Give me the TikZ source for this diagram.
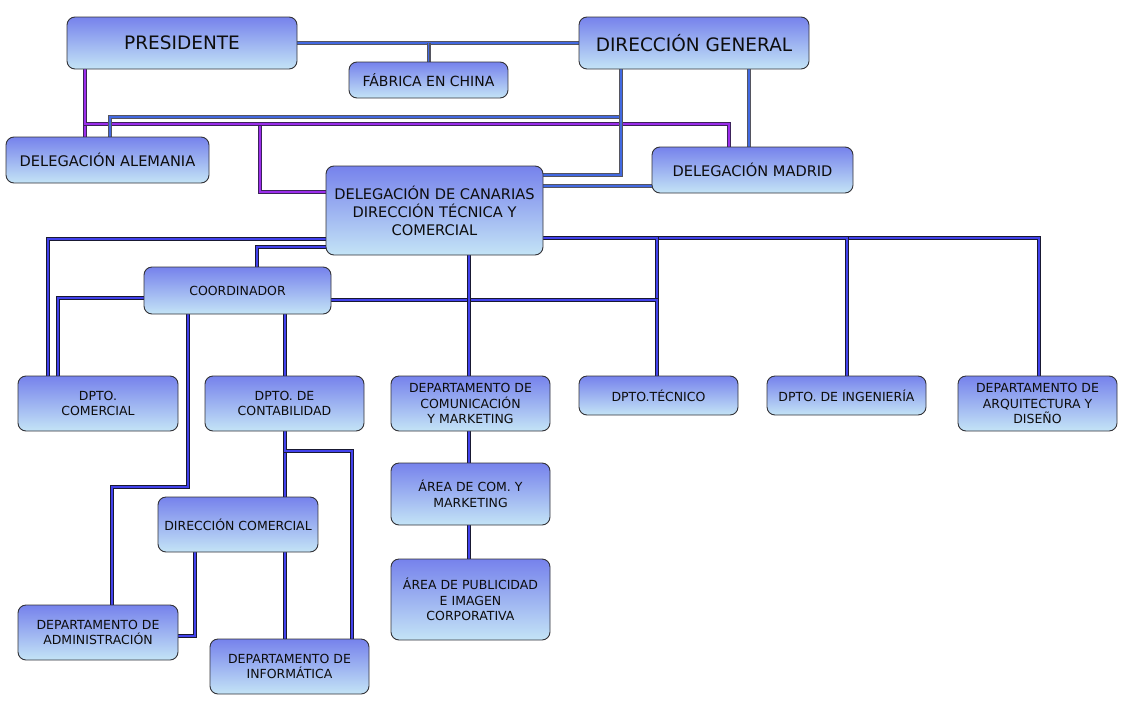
\documentclass[tikz,border=0pt]{standalone}
\usepackage{fontspec}
\setmainfont{DejaVu Sans}
\usetikzlibrary{calc}
\pgfdeclarelayer{bg}
\pgfsetlayers{bg,main}
\definecolor{boxtop}{RGB}{118,130,236}
\definecolor{boxbot}{RGB}{196,228,246}
\definecolor{boxline}{RGB}{50,50,55}
\definecolor{lkin}{RGB}{66,66,236}
\definecolor{lkout}{RGB}{25,25,50}
\definecolor{lbin}{RGB}{66,105,225}
\definecolor{lbout}{RGB}{85,85,95}
\definecolor{lpin}{RGB}{155,45,235}
\definecolor{lpout}{RGB}{60,35,90}
\tikzset{
  box/.style={draw=boxline, line width=0.9pt, rounded corners=8pt,
    top color=boxtop, bottom color=boxbot, align=center,
    inner sep=2pt, outer sep=0pt, text=black!95},
  big/.style={box, font=\fontsize{18.5}{22}\selectfont},
  mid/.style={box, font=\fontsize{14.6}{18}\selectfont},
  sml/.style={box, font=\fontsize{12.5}{15.5}\selectfont},
  lk/.style={line width=1.8pt, draw=lkin, preaction={draw=lkout, line width=4pt}},
  lb/.style={line width=1.8pt, draw=lbin, preaction={draw=lbout, line width=4pt}},
  lp/.style={line width=1.8pt, draw=lpin, preaction={draw=lpout, line width=4pt}},
}
\begin{document}
\begin{tikzpicture}[x=1pt,y=-1pt]
\useasboundingbox (0,0) rectangle (1132,707);
% nodes
\node[big, minimum width=230pt, minimum height=52pt] (pres) at (182,43) {PRESIDENTE};
\node[big, minimum width=230pt, minimum height=52pt] (dg) at (694,43) {DIRECCIÓN GENERAL};
\node[mid, minimum width=159pt, minimum height=36pt, font=\fontsize{14}{17}\selectfont] (fab) at (428.5,80) {FÁBRICA EN CHINA};
\node[mid, minimum width=203pt, minimum height=46pt] (alem) at (107.5,160) {DELEGACIÓN ALEMANIA};
\node[mid, minimum width=201pt, minimum height=46pt] (mad) at (752.5,170) {DELEGACIÓN MADRID};
\node[mid, minimum width=217pt, minimum height=89pt] (can) at (434.5,210.5) {DELEGACIÓN DE CANARIAS\\DIRECCIÓN TÉCNICA Y\\COMERCIAL};
\node[sml, minimum width=187pt, minimum height=47pt] (coord) at (237.5,290.5) {COORDINADOR};
\node[sml, minimum width=160pt, minimum height=55pt] (com) at (98,403.5) {DPTO.\\COMERCIAL};
\node[sml, minimum width=159pt, minimum height=55pt] (cont) at (284.5,403.5) {DPTO. DE\\CONTABILIDAD};
\node[sml, minimum width=159pt, minimum height=55pt] (comu) at (470.5,403.5) {DEPARTAMENTO DE\\COMUNICACIÓN\\Y MARKETING};
\node[sml, minimum width=159pt, minimum height=39pt] (tec) at (658.5,395.5) {DPTO.TÉCNICO};
\node[sml, minimum width=159pt, minimum height=39pt] (ing) at (846.5,395.5) {DPTO. DE INGENIERÍA};
\node[sml, minimum width=159pt, minimum height=55pt] (arq) at (1037.5,403.5) {DEPARTAMENTO DE\\ARQUITECTURA Y\\DISEÑO};
\node[sml, minimum width=159pt, minimum height=62pt] (acom) at (470.5,494) {ÁREA DE COM. Y\\MARKETING};
\node[sml, minimum width=159pt, minimum height=81pt] (apub) at (470.5,599.5) {ÁREA DE PUBLICIDAD\\E IMAGEN\\CORPORATIVA};
\node[sml, minimum width=160pt, minimum height=55pt] (dcom) at (238,524.5) {DIRECCIÓN COMERCIAL};
\node[sml, minimum width=160pt, minimum height=55pt] (adm) at (98,632.5) {DEPARTAMENTO DE\\ADMINISTRACIÓN};
\node[sml, minimum width=159pt, minimum height=55pt] (inf) at (289.5,666.5) {DEPARTAMENTO DE\\INFORMÁTICA};
% connectors
\begin{pgfonlayer}{bg}
% top row
\draw[lb] (pres.east) -- (dg.west);
\draw[lb] (fab.north) -- (fab.north |- pres.east);
% purple from presidente
\draw[lp] (pres.south -| 85,0) -- (alem.north -| 85,0);
\draw[lp] (pres.south -| 85,0) -- (85,124) -- (260,124) -- (260,192) -- (can.west |- 0,192);
\draw[lp] (pres.south -| 85,0) -- (85,124) -- (729,124) -- (mad.north -| 729,0);
% blue from direccion general
\draw[lb] (dg.south -| 621,0) -- (621,117) -- (110,117) -- (alem.north -| 110,0);
\draw[lb] (dg.south -| 621,0) -- (621,175) -- (can.east |- 0,175);
\draw[lb] (dg.south -| 749,0) -- (mad.north -| 749,0);
\draw[lb] (can.east |- 0,186) -- (mad.west |- 0,186);
% canarias downward
\draw[lk] (can.west |- 0,239) -- (48,239) -- (com.north -| 48,0);
\draw[lk] (can.west |- 0,247) -- (257,247) -- (coord.north -| 257,0);
\draw[lk] (can.east |- 0,238) -- (1039,238) -- (arq.north -| 1039,0);
\draw[lk] (can.east |- 0,238) -- (847,238) -- (ing.north -| 847,0);
\draw[lk] (can.east |- 0,238) -- (657,238) -- (tec.north -| 657,0);
\draw[lk] (coord.east |- 0,300) -- (657,300) -- (tec.north -| 657,0);
\draw[lk] (can.south -| 469,0) -- (comu.north -| 469,0);
% coordinador
\draw[lk] (coord.west |- 0,298) -- (58,298) -- (com.north -| 58,0);
\draw[lk] (coord.south -| 188,0) -- (188,487) -- (112,487) -- (adm.north -| 112,0);
\draw[lk] (coord.south -| 285,0) -- (cont.north -| 285,0);
% contabilidad
\draw[lk] (cont.south -| 285,0) -- (dcom.north -| 285,0);
\draw[lk] (cont.south -| 285,0) -- (285,451) -- (352,451) -- (inf.north -| 352,0);
% direccion comercial
\draw[lk] (dcom.south -| 285,0) -- (inf.north -| 285,0);
\draw[lk] (dcom.south -| 195,0) -- (195,636) -- (adm.east |- 0,636);
% marketing column
\draw[lk] (comu.south -| 469,0) -- (acom.north -| 469,0);
\draw[lk] (acom.south -| 469,0) -- (apub.north -| 469,0);
\end{pgfonlayer}
\end{tikzpicture}
\end{document}
